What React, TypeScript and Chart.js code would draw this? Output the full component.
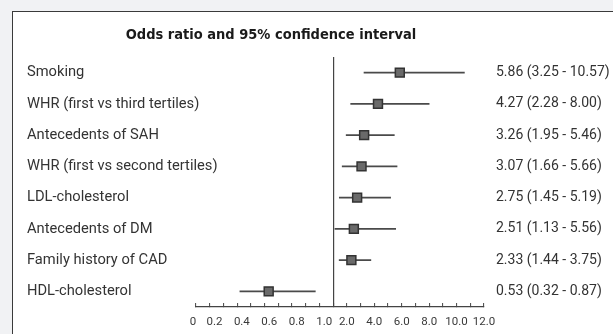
import React, { useEffect, useRef } from "react";
import { Chart, registerables, LinearScale, CategoryScale } from "chart.js";

Chart.register(...registerables);

const TITLE = "Odds ratio and 95% confidence interval";
const CATEGORIES = [
  "Smoking",
  "WHR (first vs third tertiles)",
  "Antecedents of SAH",
  "WHR (first vs second tertiles)",
  "LDL-cholesterol",
  "Antecedents of DM",
  "Family history of CAD",
  "HDL-cholesterol",
];
const ODDS = [5.86, 4.27, 3.26, 3.07, 2.75, 2.51, 2.33, 0.53];
const LOWER = [3.25, 2.28, 1.95, 1.66, 1.45, 1.13, 1.44, 0.32];
const UPPER = [10.57, 8.0, 5.46, 5.66, 5.19, 5.56, 3.75, 0.87];

const TICK_VALUES = [0, 0.1, 0.2, 0.3, 0.4, 0.5, 0.6, 0.7, 0.8, 0.9, 1, 2, 3, 4, 5, 6, 7, 8, 9, 10, 11, 12];
const TICK_LABELS = ["0", "", "0.2", "", "0.4", "", "0.6", "", "0.8", "", "1.0", "2.0", "", "4.0", "", "6.0", "", "8.0", "", "10.0", "", "12.0"];

// Piecewise scale: 0..1 stretched over 10 steps, 1..12 over 11 steps
class ForestScale extends LinearScale {
  static id = "forest";
  static defaults = {};
  toUnits(v: number) {
    return v <= 1 ? v * 10 : 10 + (v - 1);
  }
  getPixelForValue(value: number) {
    return this.getPixelForDecimal(this.toUnits(value) / 21);
  }
  getValueForPixel(pixel: number) {
    const u = this.getDecimalForPixel(pixel) * 21;
    return u <= 10 ? u / 10 : 1 + (u - 10);
  }
  buildTicks() {
    return TICK_VALUES.map((v) => ({ value: v }));
  }
  // labels of the 0..1 section sit slightly left of their ticks, as in the source
  _computeLabelItems(chartArea: any) {
    const items = (super._computeLabelItems as any)(chartArea);
    items.forEach((it: any, i: number) => {
      const v = (this as any).ticks[i].value;
      if (v > 0 && v <= 1) it.options.translation[0] -= 9;
      else if (v === 0) it.options.translation[0] -= 3;
    });
    return items;
  }
}

// Category axis whose labels are not clipped to the axis box
class FreeCategoryScale extends CategoryScale {
  static id = "freecategory";
  static defaults = {};
  _computeLabelArea() {
    return undefined;
  }
}
Chart.register(ForestScale as any, FreeCategoryScale as any);

const fmt = (v: number) => v.toFixed(2);
const VALUE_LABELS = ODDS.map((o, i) => `${fmt(o)} (${fmt(LOWER[i])} - ${fmt(UPPER[i])})`);

const TEXT_FONT = "Roboto, 'Noto Sans', sans-serif";

export default function App() {
  const ref = useRef<HTMLCanvasElement>(null);
  useEffect(() => {
    if (!ref.current) return;
    const chart = new Chart(ref.current, {
      type: "bar",
      data: {
        labels: CATEGORIES,
        datasets: [
          {
            type: "line",
            indexAxis: "y",
            data: ODDS,
            showLine: false,
            pointStyle: "rect",
            pointRadius: 6.3,
            pointHoverRadius: 6.3,
            pointBackgroundColor: "#6a6a6a",
            pointBorderColor: "#333333",
            pointBorderWidth: 1.5,
            order: 0,
            clip: false,
          } as any,
          {
            type: "bar",
            data: LOWER.map((l, i) => [l, UPPER[i]]),
            backgroundColor: "#4a4a4a",
            borderWidth: 0,
            barThickness: 1.3,
            order: 1,
          } as any,
        ],
      },
      options: {
        indexAxis: "y",
        responsive: false,
        animation: false,
        layout: { padding: { left: 27, right: 98, top: 0, bottom: 0 } },
        plugins: {
          legend: { display: false },
          tooltip: { enabled: false },
          title: {
            display: true,
            text: TITLE,
            color: "#1a1a1a",
            font: {
              family: "'Liberation Sans Narrow', 'DejaVu Sans Condensed', sans-serif",
              size: 14.5,
              weight: "bold",
              lineHeight: 1,
            },
            padding: { top: 28, bottom: 14.5 },
          },
        },
        scales: {
          x: {
            type: "forest" as any,
            min: 0,
            max: 12,
            position: "bottom",
            afterFit: (s: any) => {
              s.height = 27;
            },
            border: { display: true, color: "#444", width: 1.2 },
            grid: {
              drawOnChartArea: true,
              color: (ctx: any) => (ctx.tick && ctx.tick.value === 1 ? "#444" : "rgba(0,0,0,0)"),
              lineWidth: 1.2,
              tickColor: "#444",
              tickWidth: 1,
              tickLength: -4,
            },
            ticks: {
              autoSkip: false,
              maxRotation: 0,
              minRotation: 0,
              padding: 12,
              color: "#3a3a3a",
              font: { family: TEXT_FONT, size: 11.5, lineHeight: 1.2 },
              callback: (_v: any, i: number) => TICK_LABELS[i],
            },
          } as any,
          y: {
            type: "freecategory" as any,
            labels: CATEGORIES,
            offset: true,
            position: "left",
            afterFit: (s: any) => {
              s.width = 169;
            },
            border: { display: false },
            grid: { display: false, drawTicks: false },
            ticks: {
              crossAlign: "far",
              padding: 0,
              autoSkip: false,
              color: "#333",
              font: { family: TEXT_FONT, size: 14.7 },
            },
          } as any,
          y2: {
            type: "freecategory" as any,
            labels: VALUE_LABELS,
            offset: true,
            position: "right",
            afterFit: (s: any) => {
              s.width = 31;
            },
            border: { display: false },
            grid: { display: false, drawTicks: false },
            ticks: {
              crossAlign: "near",
              padding: 12,
              autoSkip: false,
              color: "#333",
              font: { family: TEXT_FONT, size: 14 },
            },
          } as any,
        },
      },
    });
    return () => chart.destroy();
  }, []);

  return (
    <div
      style={{
        position: "fixed",
        left: 0,
        top: 0,
        width: 613,
        height: 334,
        background: "#f1f2f4",
        overflow: "hidden",
      }}
    >
      <div
        style={{
          position: "absolute",
          left: 12,
          top: 11,
          width: 700,
          height: 400,
          background: "#ffffff",
          border: "1px solid #3a3a3a",
        }}
      />
      <canvas
        ref={ref}
        width={613}
        height={334}
        style={{ position: "absolute", left: 0, top: 0, display: "block" }}
      />
    </div>
  );
}
